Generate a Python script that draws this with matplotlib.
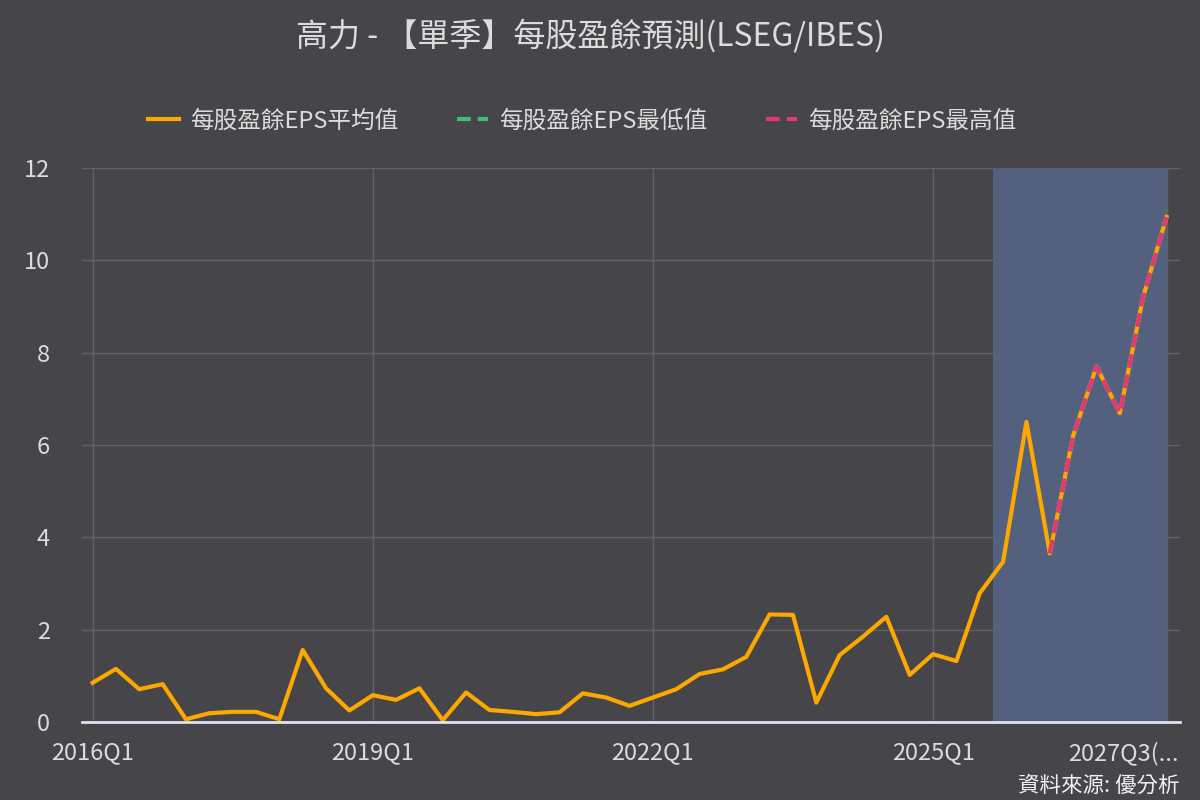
import matplotlib
matplotlib.use("Agg")
import matplotlib.pyplot as plt
import matplotlib.transforms as mtransforms
import numpy as np

plt.rcParams['font.family'] = ['Noto Sans CJK TC', 'DejaVu Sans']

quarters = []
for y in range(2016, 2028):
    for q in range(1, 5):
        quarters.append(f"{y}Q{q}")
quarters = quarters[:47]

eps_mean = [0.85, 1.15, 0.71, 0.82, 0.06, 0.19, 0.22, 0.22, 0.06, 1.56,
            0.73, 0.25, 0.58, 0.48, 0.73, 0.04, 0.64, 0.26, 0.22, 0.17,
            0.21, 0.62, 0.53, 0.35, 0.53, 0.71, 1.04, 1.14, 1.41, 2.33,
            2.32, 0.42, 1.45, 1.85, 2.28, 1.02, 1.47, 1.32, 2.79, 3.47,
            6.50, 3.65, 6.20, 7.70, 6.69, 9.21, 10.94]
nan = float('nan')
eps_low = [nan] * 41 + [3.65, 6.20, 7.70, 6.69, 9.21, 10.94]
eps_high = [nan] * 41 + [3.65, 6.20, 7.70, 6.69, 9.21, 10.94]

tick_idx = [0, 12, 24, 36, 46]
tick_labels = ["2016Q1", "2019Q1", "2022Q1", "2025Q1", "2027Q3(..."]
shade_start, shade_end = 38.55, 46

labels = ["每股盈餘EPS平均值", "每股盈餘EPS最低值", "每股盈餘EPS最高值"]

BG = '#464549'
TXT = '#dcdcdc'
GRID = '#626166'
ORANGE = '#fca800'
GREEN = '#3dbf73'
PINK = '#e8366f'

fig = plt.figure(figsize=(12, 8), dpi=100, facecolor=BG)
ax = fig.add_axes([0.068, 0.0975, 0.915, 0.6925], facecolor=BG)

x = np.arange(len(quarters))
ax.axvspan(shade_start, shade_end, color='#53617f', zorder=1, lw=0)

l1, = ax.plot(x, eps_mean, color=ORANGE, lw=3, zorder=3, label=labels[0])
l2, = ax.plot(x, eps_low, color=GREEN, lw=3, zorder=4, dashes=(3.3, 1.7), label=labels[1])
l3, = ax.plot(x, eps_high, color=PINK, lw=3, zorder=5, dashes=(3.3, 1.7), label=labels[2])

ax.set_xlim(-0.47, 46.56)
ax.set_ylim(0, 12)
ax.set_yticks([0, 2, 4, 6, 8, 10, 12])
ax.set_xticks(tick_idx)
ax.set_xticklabels(tick_labels)

ax.grid(True, color=GRID, lw=1, zorder=0)
ax.set_axisbelow(True)
for s in ['top', 'right', 'left']:
    ax.spines[s].set_visible(False)
ax.spines['bottom'].set_color('#dde3f0')
ax.spines['bottom'].set_linewidth(2)
ax.spines['bottom'].set_zorder(6)

ax.tick_params(axis='both', length=0, colors=TXT, labelsize=17)
ax.tick_params(axis='x', pad=14)
ax.tick_params(axis='y', pad=23)
for t in ax.get_yticklabels():
    t.set_ha('right')

lab = ax.get_xticklabels()[-1]
lab.set_ha('right')
lab.set_transform(lab.get_transform() + mtransforms.ScaledTranslation(0.12, 0, fig.dpi_scale_trans))

fig.text(0.492, 0.955, "高力 - 【單季】每股盈餘預測(LSEG/IBES)", ha='center', va='center',
         color=TXT, fontsize=23)

leg = fig.legend(handles=[l1, l2, l3], loc='center', bbox_to_anchor=(0.485, 0.849), ncol=3,
                 frameon=False, fontsize=17, labelcolor=TXT, handlelength=1.3,
                 columnspacing=2.5, handletextpad=0.47)

fig.text(0.983, 0.004, "資料來源: 優分析", ha='right', va='bottom', color='#f0f0f0', fontsize=15.5)

fig.savefig('out.png', dpi=100, facecolor=BG)
